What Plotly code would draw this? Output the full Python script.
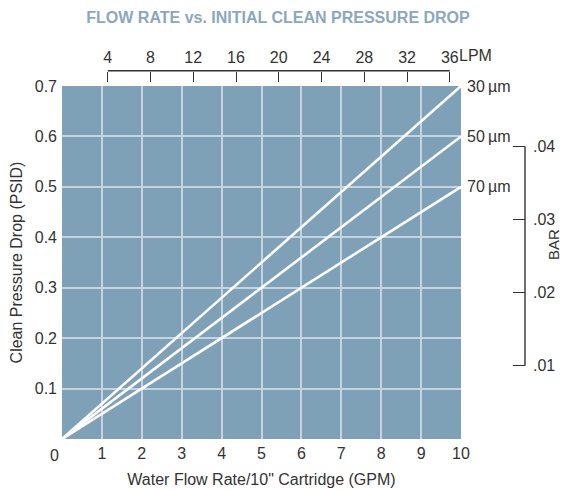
import plotly.graph_objects as go

# ---- data ----
flow_gpm = [0, 10]
dp_30um = [0, 0.7]
dp_50um = [0, 0.6]
dp_70um = [0, 0.5]
series_names = ["30\u2009µm", "50\u2009µm", "70\u2009µm"]

x_ticks = [1, 2, 3, 4, 5, 6, 7, 8, 9, 10]
y_ticks = [0.1, 0.2, 0.3, 0.4, 0.5, 0.6, 0.7]
lpm_ticks = [4, 8, 12, 16, 20, 24, 28, 32, 36]
bar_ticks = [0.01, 0.02, 0.03, 0.04]
bar_labels = [".01", ".02", ".03", ".04"]

PSI_PER_BAR = 14.5038

FONT = "Liberation Sans, Arial, sans-serif"
FS = 16
TXT = "#333333"
BG = "#7fa1b8"
GRID = "#c4d4e0"

OFF = 8  # page body offset
W, H = 568 - OFF, 489 - OFF
ML, MR, MT, MB = 62 - OFF, 40, 60 - OFF, 30
pw = W - ML - MR
ph = H - MT - MB


def px_x(x):
    return (x - OFF - ML) / pw


def px_y(y):
    return (H - MB - (y - OFF)) / ph


x_dom_right = px_x(461)
y_dom = [px_y(439), px_y(86)]
top_axis_pos = px_y(70.7)
bar_axis_pos = px_x(525)

fig = go.Figure()
for name, ys in zip(series_names, [dp_30um, dp_50um, dp_70um]):
    fig.add_trace(go.Scatter(x=flow_gpm, y=ys, mode="lines",
                             line=dict(color="white", width=2.6),
                             showlegend=False, hoverinfo="skip"))
    fig.add_annotation(x=flow_gpm[-1], y=ys[-1], text=name, xref="x", yref="y",
                       xanchor="left", yanchor="middle", xshift=4, showarrow=False,
                       font=dict(family=FONT, size=FS, color=TXT))

# dummy traces to activate secondary axes
fig.add_trace(go.Scatter(x=[None], y=[None], xaxis="x2", yaxis="y", showlegend=False))
fig.add_trace(go.Scatter(x=[None], y=[None], xaxis="x", yaxis="y2", showlegend=False))

lpm_range = [-0.28, 37.05]

fig.update_layout(
    width=W, height=H,
    margin=dict(l=ML, r=MR, t=MT, b=MB, autoexpand=False),
    paper_bgcolor="white",
    plot_bgcolor=BG,
    font=dict(family=FONT, size=FS, color=TXT),
    title=dict(text="<b>FLOW RATE vs. INITIAL CLEAN PRESSURE DROP</b>",
               x=(278 - OFF) / W, xanchor="center", y=1 - (17 - OFF) / H, yanchor="middle",
               font=dict(family=FONT, size=16, color="#8aa8bd")),
    xaxis=dict(domain=[0, x_dom_right], range=[0, 10], tickvals=x_ticks,
               automargin=False, ticklabelstandoff=3,
               showgrid=True, gridcolor=GRID, gridwidth=2, zeroline=False,
               showline=False, ticks="", tickfont=dict(size=FS, color=TXT),
               title=dict(text='Water Flow Rate/10" Cartridge (GPM)', standoff=12,
                          font=dict(size=FS, color=TXT))),
    yaxis=dict(domain=y_dom, range=[0, 0.7], tickvals=y_ticks,
               ticktext=[f"{v:.1f}" for v in y_ticks], automargin=False,
               showgrid=True, gridcolor=GRID, gridwidth=2, zeroline=False,
               showline=False, ticks="", ticklabelstandoff=4,
               tickfont=dict(size=FS, color=TXT),
               title=dict(text="Clean Pressure Drop (PSID)", standoff=11,
                          font=dict(size=FS, color=TXT))),
    xaxis2=dict(overlaying="x", side="top", anchor="free", position=top_axis_pos,
                range=lpm_range, tickvals=lpm_ticks, ticktext=[str(v) for v in lpm_ticks],
                automargin=False, ticklabelstandoff=5,
                ticks="inside", ticklen=10, tickwidth=1.4, tickcolor=TXT,
                showgrid=False, zeroline=False, showline=False,
                tickfont=dict(size=FS, color=TXT)),
    yaxis2=dict(overlaying="y", side="right", anchor="free", position=bar_axis_pos,
                range=[0, 0.7 / PSI_PER_BAR], tickvals=bar_ticks, ticktext=bar_labels,
                automargin=False, ticklabelstandoff=7,
                ticks="inside", ticklen=12, tickwidth=1.4, tickcolor=TXT,
                showgrid=False, zeroline=False, showline=False,
                tickfont=dict(size=FS, color=TXT)),
)

# x=0 origin label, shifted like the reference
fig.add_annotation(x=0, y=y_dom[0], xref="x", yref="paper", text="0", showarrow=False,
                   xanchor="center", yanchor="top", xshift=-8, yshift=-6,
                   font=dict(family=FONT, size=FS, color=TXT))

# LPM unit after the last tick label
fig.add_annotation(x=lpm_ticks[-1], y=top_axis_pos, xref="x2", yref="paper",
                   text="LPM", showarrow=False, xanchor="left", yanchor="bottom",
                   xshift=7, yshift=5, font=dict(family=FONT, size=FS, color=TXT))

# BAR scale title
fig.add_annotation(x=px_x(553), y=px_y(245),
                   xref="paper", yref="paper", text="BAR", textangle=-90, showarrow=False,
                   xanchor="center", yanchor="middle", borderpad=0,
                   font=dict(family=FONT, size=15, color=TXT))

# bracket lines of the secondary scales
fig.add_shape(type="line", xref="x2", yref="paper", x0=lpm_ticks[0], x1=lpm_ticks[-1],
              y0=top_axis_pos, y1=top_axis_pos, line=dict(color=TXT, width=1.4))
fig.add_shape(type="line", xref="paper", yref="y2", x0=bar_axis_pos, x1=bar_axis_pos,
              y0=bar_ticks[0], y1=bar_ticks[-1], line=dict(color=TXT, width=1.4))

fig.write_html("out.html")
